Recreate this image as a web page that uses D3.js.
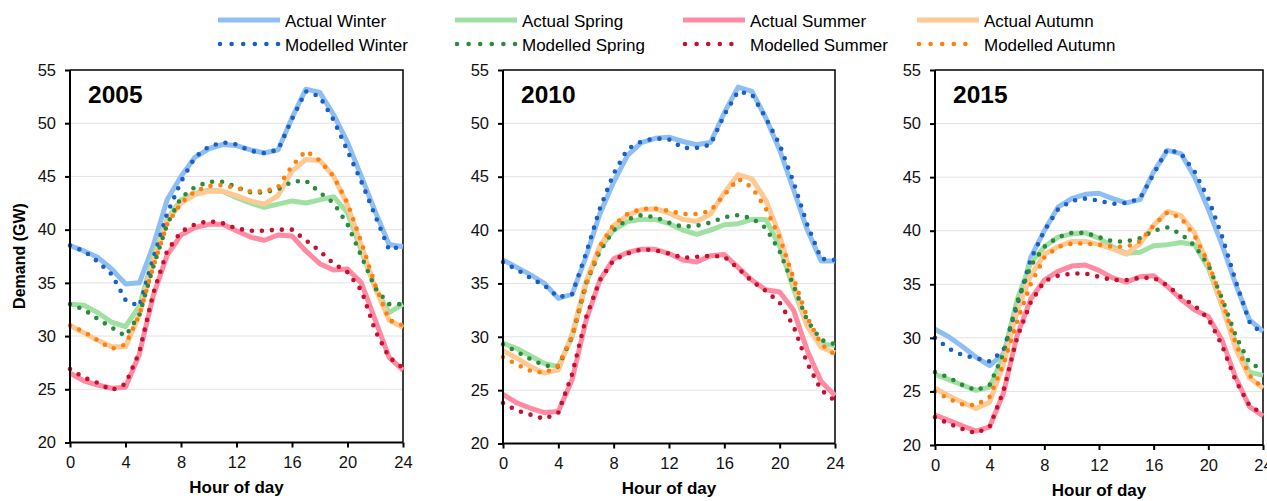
<!DOCTYPE html>
<html>
<head>
<meta charset="utf-8">
<script src="https://cdn.jsdelivr.net/npm/d3@7"></script>
<style>
  body { margin: 0; background: #fff; }
  text { font-family: "Liberation Sans", Arial, Helvetica, sans-serif; }
</style>
</head>
<body>
<svg id="chart" width="1267" height="501"></svg>
<script>
// data (GW), hours 0..24
const hours = d3.range(0, 25);
const years = ["2005", "2010", "2015"];
const seasons = ["Winter", "Spring", "Summer", "Autumn"];
const yTicks = [20, 25, 30, 35, 40, 45, 50, 55];
const xTicks = [0, 4, 8, 12, 16, 20, 24];

const actual2005 = {
  Winter: [38.5,38.0,37.4,36.3,34.9,35.0,38.5,42.8,45.0,46.8,47.6,48.0,47.9,47.5,47.2,47.5,50.5,53.2,52.9,50.8,48.2,45.0,41.7,38.6,38.4],
  Spring: [33.0,32.9,32.2,31.3,30.9,32.8,37.5,41.0,42.8,43.4,43.7,43.6,43.0,42.5,42.1,42.4,42.7,42.5,42.8,43.1,41.6,38.0,34.5,32.2,33.0],
  Summer: [26.5,25.8,25.4,25.1,25.2,28.3,33.8,37.6,39.5,40.2,40.5,40.5,39.9,39.3,39.0,39.5,39.4,38.0,36.8,36.2,36.3,35.0,31.5,28.0,26.8],
  Autumn: [31.0,30.3,29.6,29.0,29.0,32.0,37.0,40.8,42.5,43.3,43.6,43.6,43.2,42.7,42.4,43.2,45.5,46.6,46.5,45.0,42.3,38.5,34.5,31.5,30.8]
};
const modelled2005 = {
  Winter: [38.5,38.0,37.0,35.8,33.4,32.8,37.3,41.5,44.5,46.8,47.8,48.2,48.0,47.4,47.2,47.5,50.4,53.0,52.5,50.3,47.4,44.5,41.3,38.1,38.5],
  Spring: [33.0,32.5,31.6,30.8,30.0,32.0,36.5,40.5,43.0,44.0,44.5,44.5,44.0,43.5,43.5,43.8,44.5,44.6,43.5,42.5,40.5,37.5,34.5,33.0,33.0],
  Summer: [26.9,26.1,25.6,24.9,25.5,28.5,34.0,38.0,39.8,40.5,40.8,40.6,40.1,39.9,39.9,40.0,40.0,39.0,38.0,36.8,36.0,34.3,30.5,28.0,27.0],
  Autumn: [31.0,30.4,29.6,28.8,29.2,32.0,36.5,40.5,42.5,43.6,44.1,44.2,43.9,43.6,43.6,44.0,46.0,47.4,46.5,45.0,42.5,38.8,34.8,31.5,31.0]
};
const actual2010 = {
  Winter: [37.2,36.5,35.8,35.0,33.6,34.0,37.5,41.5,44.5,47.0,48.2,48.6,48.7,48.3,48.0,48.2,51.0,53.4,53.0,50.5,47.5,43.8,40.0,37.1,37.1],
  Spring: [29.4,28.9,28.2,27.5,27.2,30.0,35.0,38.3,40.0,40.8,41.0,41.0,40.6,40.0,39.6,40.0,40.5,40.6,41.0,41.0,38.5,34.5,31.0,29.3,29.2],
  Summer: [24.6,23.8,23.3,22.9,23.0,26.0,31.5,35.3,37.3,37.9,38.2,38.2,37.8,37.2,37.0,37.6,37.7,36.5,35.3,34.4,34.2,32.5,28.7,25.8,24.5],
  Autumn: [28.7,28.0,27.2,26.6,26.9,30.3,35.2,38.5,40.4,41.4,41.9,42.0,41.6,41.0,40.8,41.5,43.5,45.2,44.8,42.8,39.5,35.0,31.0,29.0,28.5]
};
const modelled2010 = {
  Winter: [37.0,36.3,35.5,34.8,33.7,34.0,37.8,42.0,45.3,47.6,48.3,48.6,48.5,47.7,47.7,48.0,50.8,53.0,52.7,50.5,48.0,44.5,40.5,37.3,37.2],
  Spring: [29.3,28.6,27.9,27.3,27.2,30.0,35.0,38.0,40.0,41.0,41.4,41.2,40.7,40.3,40.4,40.7,41.2,41.4,41.1,40.2,38.0,34.8,31.5,29.7,29.3],
  Summer: [23.8,23.1,22.7,22.3,22.9,26.5,31.8,35.3,37.2,37.8,38.2,38.1,37.8,37.4,37.5,37.6,37.5,36.4,35.2,34.3,33.2,31.0,27.5,25.0,24.0],
  Autumn: [28.1,27.4,26.8,26.6,27.3,30.0,34.8,38.5,40.5,41.5,42.0,42.0,41.8,41.5,41.5,41.8,43.3,44.8,44.0,42.0,39.3,35.5,31.8,29.3,28.3]
};
const actual2015 = {
  Winter: [30.8,30.1,29.2,28.2,27.4,28.5,32.5,37.5,40.0,42.2,43.0,43.4,43.5,43.0,42.6,42.9,45.5,47.5,47.2,45.0,42.0,38.7,35.0,31.7,30.6],
  Spring: [26.6,26.1,25.6,25.1,25.4,28.3,33.5,37.0,38.5,39.4,39.7,39.8,39.3,38.5,37.9,38.0,38.6,38.7,38.9,38.7,36.5,33.0,29.5,26.8,26.5],
  Summer: [22.8,22.3,21.8,21.3,21.7,24.8,30.2,33.6,35.4,36.2,36.7,36.8,36.3,35.6,35.2,35.7,35.8,34.8,33.6,32.6,32.0,29.8,26.3,23.6,22.7],
  Autumn: [25.3,24.6,24.0,23.4,24.0,27.5,32.5,35.8,37.8,38.5,39.0,39.0,38.7,38.3,37.8,38.8,40.5,41.8,41.4,39.8,36.8,33.0,29.0,26.3,25.3]
};
const modelled2015 = {
  Winter: [30.0,29.0,28.4,28.1,27.8,28.8,33.0,37.3,40.0,42.0,42.8,43.0,42.8,42.5,42.6,43.0,45.3,47.6,47.2,45.5,43.0,39.5,35.3,31.5,30.3],
  Spring: [26.8,26.3,25.6,25.1,25.6,28.5,33.3,36.7,38.5,39.4,39.8,39.8,39.4,39.0,39.0,39.3,40.0,40.3,39.7,38.6,36.8,33.7,30.2,27.7,27.0],
  Summer: [22.6,22.0,21.5,21.1,21.7,25.0,30.0,33.3,35.3,35.8,36.0,36.0,35.7,35.4,35.4,35.6,35.6,34.9,33.8,33.0,31.8,29.3,26.0,23.7,22.9],
  Autumn: [25.0,24.3,23.8,23.7,24.5,27.5,31.5,35.0,37.5,38.5,38.8,38.8,38.7,38.5,38.5,39.0,40.5,41.7,41.2,39.5,37.0,33.5,29.5,26.5,25.3]
};
const actualByYear = [actual2005, actual2010, actual2015];
const modelledByYear = [modelled2005, modelled2010, modelled2015];

// styling
const actualColor = { Winter: "#8fbff2", Spring: "#a0e0a2", Summer: "#ff8ba2", Autumn: "#ffc993" };
const modelColor = { Winter: "#1a5fc2", Spring: "#2c8a3c", Summer: "#c5112f", Autumn: "#ff7f0e" };

// panel boxes (left, right, top, bottom)
const panels = [
  { l: 70, r: 403, t: 70, b: 442.5 },
  { l: 503, r: 835, t: 70, b: 443.5 },
  { l: 935, r: 1263, t: 70, b: 445 }
];

const svg = d3.select("#chart");

panels.forEach(function (p, i) {
  const x = d3.scaleLinear().domain([0, 24]).range([p.l, p.r]);
  const y = d3.scaleLinear().domain([20, 55]).range([p.b, p.t]);
  const g = svg.append("g");

  // gridlines
  g.selectAll(".grid").data(yTicks.slice(1, -1)).enter().append("line")
    .attr("x1", p.l).attr("x2", p.r)
    .attr("y1", d => y(d)).attr("y2", d => y(d))
    .attr("stroke", "#e2e2e2").attr("stroke-width", 1);

  // frame top/right
  g.append("path")
    .attr("d", `M${p.l},${p.t}H${p.r}V${p.b}`)
    .attr("fill", "none").attr("stroke", "#000").attr("stroke-width", 1.5);

  const line = d3.line().x((d, k) => x(hours[k])).y(d => y(d));

  seasons.forEach(function (s) {
    g.append("path").datum(actualByYear[i][s])
      .attr("d", line)
      .attr("fill", "none")
      .attr("stroke", actualColor[s])
      .attr("stroke-width", 5)
      .attr("stroke-linejoin", "round");
  });
  seasons.forEach(function (s) {
    g.append("path").datum(modelledByYear[i][s])
      .attr("d", line)
      .attr("fill", "none")
      .attr("stroke", modelColor[s])
      .attr("stroke-width", 4.6)
      .attr("stroke-linecap", "round")
      .attr("stroke-dasharray", "0 10");
  });

  // axes
  const xAxis = g.append("g")
    .attr("transform", `translate(0,${p.b})`)
    .call(d3.axisBottom(x).tickValues(xTicks).tickSize(5).tickPadding(9));
  const yAxis = g.append("g")
    .attr("transform", `translate(${p.l},0)`)
    .call(d3.axisLeft(y).tickValues(yTicks).tickSize(5).tickPadding(9));
  [xAxis, yAxis].forEach(function (a) {
    a.select(".domain").attr("stroke-width", 2).attr("d",
      a === xAxis ? `M${p.l},0H${p.r}` : `M0,${p.b}V${p.t}`);
    a.selectAll(".tick line").attr("stroke-width", 2);
    a.selectAll(".tick text")
      .style("font-family", "'Liberation Sans', Arial, sans-serif")
      .attr("font-size", 16.5).attr("fill", "#111");
  });

  // year label
  g.append("text")
    .attr("x", p.l + 18).attr("y", p.t + 32.5)
    .attr("font-size", 24.5).attr("font-weight", "bold")
    .text(years[i]);

  // x title
  g.append("text")
    .attr("x", (p.l + p.r) / 2).attr("y", p.b + 50.5)
    .attr("text-anchor", "middle")
    .attr("font-size", 17).attr("font-weight", "bold")
    .text("Hour of day");
});

// y title
svg.append("text")
  .attr("transform", "translate(24.5,256) rotate(-90)")
  .attr("text-anchor", "middle")
  .attr("font-size", 16).attr("font-weight", "bold")
  .text("Demand (GW)");

// legend
const legendX = [218, 455, 683, 917];
const legend = svg.append("g");
seasons.forEach(function (s, k) {
  const lx = legendX[k];
  legend.append("line")
    .attr("x1", lx).attr("x2", lx + 62).attr("y1", 20).attr("y2", 20)
    .attr("stroke", actualColor[s]).attr("stroke-width", 5);
  legend.append("text")
    .attr("x", lx + 67).attr("y", 26.5)
    .attr("font-size", 17).text("Actual " + s);
  legend.append("line")
    .attr("x1", lx + 2).attr("x2", lx + 60).attr("y1", 44).attr("y2", 44)
    .attr("stroke", modelColor[s]).attr("stroke-width", 4.6)
    .attr("stroke-linecap", "round").attr("stroke-dasharray", "0 11.6");
  legend.append("text")
    .attr("x", lx + 67).attr("y", 50.5)
    .attr("font-size", 17).text("Modelled " + s);
});
</script>
</body>
</html>
